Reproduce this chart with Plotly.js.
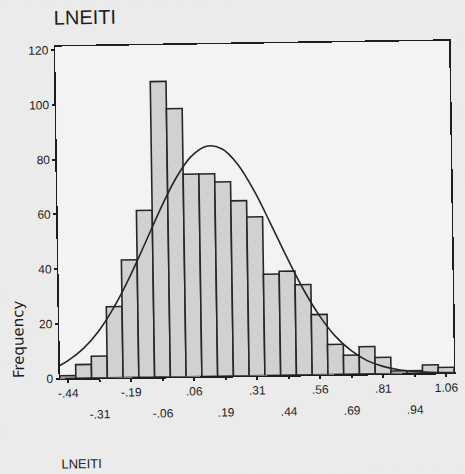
<!DOCTYPE html>
<html>
<head>
<meta charset="utf-8">
<script src="https://cdn.plot.ly/plotly-3.0.1.min.js"></script>
<style>
  html, body { margin: 0; padding: 0; background: #ebebeb; overflow: hidden; }
  #chart { width: 465px; height: 474px; transform: rotate(-0.85deg); transform-origin: 50% 50%; }
</style>
</head>
<body>
<div id="chart"></div>
<script>
// Bin midpoints of the histogram (LNEITI)
const binMid = [-0.4375, -0.375, -0.3125, -0.25, -0.1875, -0.125, -0.0625, 0, 0.0625, 0.125,
                0.1875, 0.25, 0.3125, 0.375, 0.4375, 0.5, 0.5625, 0.625, 0.6875, 0.75,
                0.8125, 0.875, 0.9375, 1.0, 1.0625];
// Frequencies
const freq = [1, 5, 8, 26, 43, 61, 108, 98, 74, 74,
              71, 64, 58, 37, 38, 33, 22, 11, 7, 10,
              6, 1, 1, 3, 2];
// Normal curve
const curveX = [-0.46875, -0.4375, -0.375, -0.3125, -0.25, -0.1875, -0.125, -0.0625, 0, 0.0625,
                0.125, 0.1875, 0.25, 0.3125, 0.375, 0.4375, 0.5, 0.5625, 0.625, 0.6875,
                0.75, 0.8125, 0.875, 0.9375, 1.0, 1.0625, 1.09375];
const curveY = [4.8, 6.4, 10.8, 17.2, 25.9, 36.6, 48.7, 61.1, 72.2, 80.3,
                84.1, 83.0, 77.1, 67.4, 55.5, 43.1, 31.5, 21.7, 14.0, 8.6,
                4.9, 2.7, 1.4, 0.7, 0.3, 0.1, 0.1];
// Tick labels (two staggered rows)
const tickRow1Vals = [-0.4375, -0.1875, 0.0625, 0.3125, 0.5625, 0.8125, 1.0625];
const tickRow1Text = ['-.44', '-.19', '.06', '.31', '.56', '.81', '1.06'];
const tickRow2Vals = [-0.3125, -0.0625, 0.1875, 0.4375, 0.6875, 0.9375];
const tickRow2Text = ['-.31', '-.06', '.19', '.44', '.69', '.94'];
const yTickVals = [0, 20, 40, 60, 80, 100, 120];
const titleText = 'LNEITI';
const xLabelText = 'LNEITI';
const yLabelText = 'Frequency';

const sans = '"Liberation Sans", Arial, sans-serif';
const ink = '#1e1e1e';
const xRange = [-0.46875, 1.09375];

const traces = [
  {
    type: 'bar', x: binMid, y: freq, width: 0.0625,
    marker: { color: '#d1d1d1', line: { color: '#262626', width: 1.6 } },
    hoverinfo: 'x+y', showlegend: false
  },
  {
    type: 'scatter', mode: 'lines', x: curveX, y: curveY,
    line: { color: '#262626', width: 1.6, shape: 'spline', smoothing: 1 },
    showlegend: false
  },
  {
    type: 'scatter', mode: 'markers', x: [tickRow2Vals[0]], y: [0], xaxis: 'x2',
    marker: { opacity: 0 }, hoverinfo: 'skip', showlegend: false
  }
];

const layout = {
  width: 465, height: 474,
  margin: { l: 58, r: 13, t: 44, b: 98 },
  paper_bgcolor: '#ebebeb',
  plot_bgcolor: '#f3f3f3',
  bargap: 0,
  showlegend: false,
  font: { family: sans, color: ink, size: 12 },
  title: {
    text: titleText,
    font: { family: sans, size: 20, color: ink },
    xref: 'container', x: 57 / 465, xanchor: 'left',
    yref: 'container', y: 1 - 15 / 474, yanchor: 'middle'
  },
  xaxis: {
    range: xRange, showgrid: false, zeroline: false,
    showline: true, mirror: true, linecolor: ink, linewidth: 1.5,
    tickmode: 'array', tickvals: tickRow1Vals, ticktext: tickRow1Text,
    ticks: 'outside', ticklen: 3, tickwidth: 2, tickcolor: ink,
    ticklabelstandoff: 0,
    tickfont: { family: sans, size: 12, color: ink }
  },
  xaxis2: {
    range: xRange, overlaying: 'x', anchor: 'y', side: 'bottom',
    showgrid: false, zeroline: false, showline: false,
    tickmode: 'array', tickvals: tickRow2Vals, ticktext: tickRow2Text,
    ticks: 'outside', ticklen: 3, tickwidth: 2, tickcolor: ink,
    ticklabelstandoff: 22,
    tickfont: { family: sans, size: 12, color: ink }
  },
  yaxis: {
    range: [0, 121.3], showgrid: false, zeroline: false,
    showline: true, mirror: true, linecolor: ink, linewidth: 1.5,
    tickmode: 'array', tickvals: yTickVals,
    ticks: 'outside', ticklen: 3, tickwidth: 2, tickcolor: ink,
    tickfont: { family: sans, size: 12, color: ink }
  },
  annotations: [
    {
      text: yLabelText, textangle: -90, showarrow: false,
      xref: 'paper', yref: 'paper', x: (17 - 58) / 394, y: (376 - 336) / 332,
      xanchor: 'center', yanchor: 'middle',
      font: { family: '"DejaVu Sans", sans-serif', size: 15, color: ink }
    },
    {
      text: xLabelText, showarrow: false,
      xref: 'paper', yref: 'paper', x: (56 - 58) / 394, y: (376 - 461) / 332,
      xanchor: 'left', yanchor: 'middle',
      font: { family: sans, size: 13, color: ink }
    }
  ]
};

Plotly.newPlot('chart', traces, layout, { staticPlot: true, displayModeBar: false });
</script>
</body>
</html>
